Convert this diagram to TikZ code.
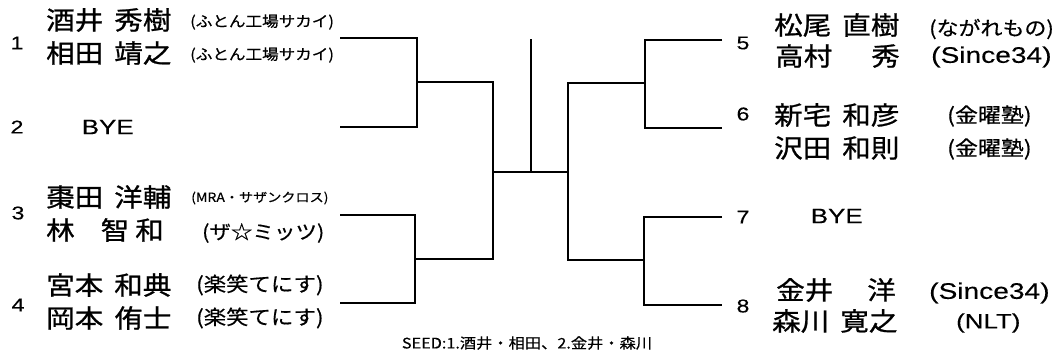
\documentclass[tikz,border=0pt]{standalone}
\usepackage{fontspec}
\newfontfamily\jp[FakeStretch=1.12,FakeBold=0.9]{Noto Sans CJK JP}
\newfontfamily\jpl[FakeStretch=1.12,FakeBold=0.5]{Noto Sans CJK JP}
\newfontfamily\lat[FakeStretch=1.25,FakeBold=0.3]{Liberation Sans}
\tikzset{
  bl/.style={line width=1.7pt},
  nm/.style={anchor=west, inner sep=0pt, font=\jp\fontsize{25.5}{28}\selectfont},
  af/.style={anchor=west, inner sep=0pt, font=\jpl\fontsize{#1}{#1}\selectfont},
  afl/.style={anchor=west, inner sep=0pt, font=\lat\fontsize{#1}{#1}\selectfont},
  num/.style={inner sep=0pt, font=\lat\fontsize{18.5}{20}\selectfont},
  bye/.style={anchor=west, inner sep=0pt, font=\lat\fontsize{20.8}{22}\selectfont},
}
\begin{document}
\begin{tikzpicture}[x=1pt,y=-1pt]
\useasboundingbox (0,0) rectangle (1056,354);
% bracket coordinates
\coordinate (e1) at (340,38);
\coordinate (e2) at (340,127);
\coordinate (e3) at (340,215);
\coordinate (e4) at (340,303);
\coordinate (j1) at (417,82);
\coordinate (j2) at (415,259);
\coordinate (j3) at (493,172);
\coordinate (j4) at (568,172);
\coordinate (top) at (531,39);
\coordinate (ctr) at (531,172);
\coordinate (e5) at (722,40);
\coordinate (e6) at (722,128);
\coordinate (e7) at (722,217);
\coordinate (e8) at (722,305);
\coordinate (k1) at (645,83);
\coordinate (k2) at (644,260);
% bracket lines
\draw[bl] (e1) -| (j1) |- (e2);
\draw[bl] (e3) -| (j2) |- (e4);
\draw[bl] (j1) -| (j3) |- (j2);
\draw[bl] (j3) -- (j4);
\draw[bl] (top) -- (ctr);
\draw[bl] (e5) -| (k1) |- (e6);
\draw[bl] (e7) -| (k2) |- (e8);
\draw[bl] (k1) -| (j4) |- (k2);
% seed numbers
\node[num] (s1) at (17,43) {1};
\node[num] (s2) at (17,127) {2};
\node[num] (s3) at (18,213) {3};
\node[num] (s4) at (18,305) {4};
\node[num] (s5) at (743,43) {5};
\node[num] (s6) at (743,114) {6};
\node[num] (s7) at (743,217) {7};
\node[num] (s8) at (743,306) {8};
% left names
\node[nm] (n1a) at (46,20) {酒井\hspace{11pt}秀樹};
\node[nm] (n1b) at (46,53) {相田\hspace{11pt}靖之};
\node[bye] (n2) at (81.5,127) {BYE};
\node[nm] (n3a) at (46,197) {棗田\hspace{11pt}洋輔};
\node[nm] (n3b) at (46,230) {林\hspace{26pt}智\hspace{6pt}和};
\node[nm] (n4a) at (46,285) {宮本\hspace{11pt}和典};
\node[nm] (n4b) at (46,318) {岡本\hspace{11pt}侑士};
% left affiliations
\node[af=14.8] (a1a) at (190,22) {(ふとん工場サカイ)};
\node[af=14.8] (a1b) at (190,55) {(ふとん工場サカイ)};
\node[af=12.6] (a3a) at (191,198) {(MRA・サザンクロス)};
\node[af=19.2] (a3b) at (202,233) {(ザ☆ミッツ)};
\node[af=20] (a4a) at (196,285) {(楽笑てにす)};
\node[af=20] (a4b) at (196,318) {(楽笑てにす)};
% right names
\node[nm] (n5a) at (774,25) {松尾\hspace{11pt}直樹};
\node[nm] (n5b) at (775,56) {高村\hspace{39pt}秀};
\node[nm] (n6a) at (774,115) {新宅\hspace{11pt}和彦};
\node[nm] (n6b) at (774,148) {沢田\hspace{11pt}和則};
\node[bye] (n7) at (810.5,216) {BYE};
\node[nm] (n8a) at (776,290) {金井\hspace{34pt}洋};
\node[nm] (n8b) at (772,321) {森川\hspace{11pt}寛之};
% right affiliations
\node[af=19.6] (a5a) at (929,29) {(ながれもの)};
\node[afl=22.5] (a5b) at (931,57) {(Since34)};
\node[af=20.5] (a6a) at (947,116) {(金曜塾)};
\node[af=20.5] (a6b) at (947,149) {(金曜塾)};
\node[afl=22.5] (a8a) at (929,293) {(Since34)};
\node[afl=20.7] (a8b) at (956,323) {(NLT)};
% footer
\node[inner sep=0pt, font=\jpl\fontsize{14.5}{16}\selectfont] (seed) at (527,343) {SEED:1.酒井・相田、2.金井・森川};
\end{tikzpicture}
\end{document}
